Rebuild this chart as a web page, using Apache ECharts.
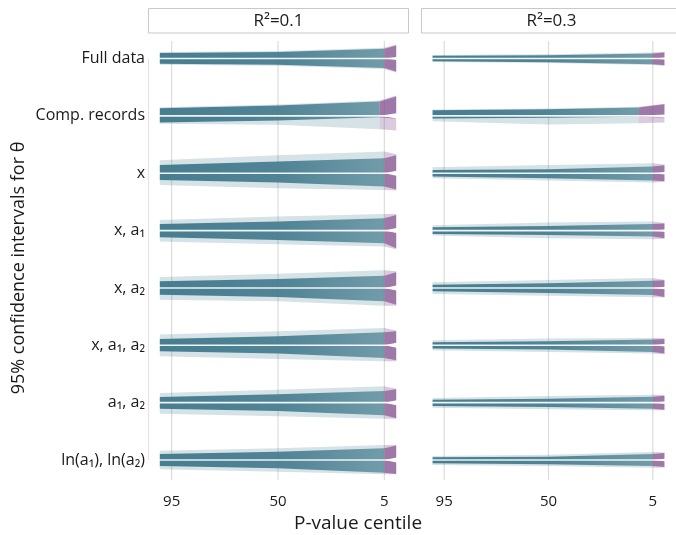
<!DOCTYPE html>
<html><head><meta charset="utf-8">
<script src="https://cdn.jsdelivr.net/npm/echarts@6/dist/echarts.min.js"></script>
<style>html,body{margin:0;padding:0;background:#fff}#c{width:676px;height:535px}</style>
</head><body><div id="c"></div>
<script>
// ---------- data ----------
const rowLabels = ['Full data', 'Comp. records', 'x', 'x, a₁', 'x, a₂', 'x, a₁, a₂', 'a₁, a₂', 'ln(a₁), ln(a₂)'];
const panelTitles = ['R²=0.1', 'R²=0.3'];
const xTickValues = [95, 50, 5];
// centile knots: 100, 50, purple start, 0
const purpleStartL = [5, 7, 5, 5, 5, 5, 5, 5];
const purpleStartR = [5, 11, 5, 5, 5, 5, 5, 5];
// distance of interval bounds from theta (arbitrary units), at knots [100, 50, purpleStart, 0]
const upperCoreL = [[5.4,6.4,9.7,13],[7.7,10.3,14.3,19.3],[8.3,11.6,15,18],[6.7,9,12.4,15.7],[6.6,9,12.3,15.6],[6.4,9,13,14],[5.6,8.3,11.6,13.5],[6,8.3,11.7,14.5]];
const upperFringeL = [[6.4,7.4,10.7,14],[8.7,11.3,15.3,20.3],[13,18,21.6,19],[10.7,14,16.7,16.7],[11,14.3,17.6,16.6],[10.7,14,17.4,14.7],[9.6,13,16.3,14],[9.3,11.7,15,15]];
const lowerCoreL = [[5.3,6.3,9.6,13],[6.7,4.7,1.5,0],[6.7,9.3,13.3,16.4],[6.6,9.3,12.6,17.6],[6.7,9,13.4,16.7],[6,8.3,12.6,15],[6,8.4,12.7,15.5],[6,8.3,12.7,14]];
const lowerFringeL = [[6.3,7.3,10.6,14],[8,9,13.3,14.7],[11.7,15,16.7,17.4],[11,13.6,16,18.6],[11.7,13.4,17.7,17.7],[11,13.6,16,16],[11,13.7,16,16],[9.3,11.7,14.3,14.3]];
const gapL = [1.5, 2.7, 2.5, 2.5, 2.5, 2.5, 2.5, 2.5];
const upperCoreR = [[2.7,3.3,5,6],[5.6,6.6,8.3,11.6],[3.3,4,6.6,8],[3.3,4.7,6.7,7],[3.3,4.6,7.3,7.6],[3,4,5.7,6.4],[3,4,6,7],[2.7,3.3,6,7]];
const upperFringeR = [[3.5,4.2,6,6.7],[6.3,7.3,9,12.2],[6,8.3,10,8.6],[5.3,8,9,7.6],[5.6,8,10,8.3],[5,6.7,7.3,7],[4.6,6.6,8,7.6],[4,5.3,8,7.6]];
const lowerCoreR = [[2.7,3.7,5.7,6.7],[2.7,2,1,0],[3.4,5,7.4,8],[3.3,4.3,6,7.6],[3.4,5,7,9],[3.3,4.3,6.7,8.3],[3.4,4.4,6,7],[3.3,4.3,6,7]];
const lowerFringeR = [[3.5,4.5,6.5,7.2],[5.3,8.7,7.5,6.7],[5,7.4,9.4,8.6],[5,7.6,8.6,8.2],[6,7.7,9.4,9.6],[5,6.7,8.3,8.9],[5,6.7,7.7,7.6],[5,6,7.7,7.6]];
const gapR = [1, 1.3, 1.2, 1.2, 1.2, 1.2, 1.2, 1.2];

// ---------- layout / style ----------
const ROW_GAP = 57.36;          // units between row centres
const ROW0_PX = 58.5;           // pixel centre of first row
const GRID_TOP = 41;
const Y_MIN = GRID_TOP - ROW0_PX, Y_MAX = 7 * ROW_GAP + 20;
const FONT = '"Open Sans", "Noto Sans", sans-serif';
const TEXT = '#1a1a1a';
const TEAL = '66,122,141';
const PURP = '132,86,146';

const panels = [
  { ps: purpleStartL, uc: upperCoreL, uf: upperFringeL, lc: lowerCoreL, lf: lowerFringeL, gap: gapL },
  { ps: purpleStartR, uc: upperCoreR, uf: upperFringeR, lc: lowerCoreR, lf: lowerFringeR, gap: gapR }
];

function buildBands(p) {
  const P = panels[p];
  const out = [];
  ['fringe', 'core'].forEach(layer => {
    ['teal', 'purple'].forEach(part => {
      rowLabels.forEach((_, r) => {
        [1, -1].forEach(sign => {
          const vals = sign > 0 ? (layer === 'core' ? P.uc[r] : P.uf[r]) : (layer === 'core' ? P.lc[r] : P.lf[r]);
          out.push({ row: r, sign, layer, part, vals, ps: P.ps[r], gap: P.gap[r] });
        });
      });
    });
  });
  return out;
}

function fillFor(b) {
  if (b.part === 'teal') {
    if (b.layer === 'fringe') return 'rgba(' + TEAL + ',0.22)';
    return new echarts.graphic.LinearGradient(0, 0, 1, 0, [
      { offset: 0, color: 'rgba(' + TEAL + ',0.97)' },
      { offset: 0.55, color: 'rgba(' + TEAL + ',0.9)' },
      { offset: 1, color: 'rgba(' + TEAL + ',0.68)' }
    ]);
  }
  return b.layer === 'fringe' ? 'rgba(' + PURP + ',0.3)' : 'rgba(' + PURP + ',0.7)';
}

function makeBandSeries(p) {
  const bands = buildBands(p);
  return {
    type: 'custom', xAxisIndex: p, yAxisIndex: p, z: 3, silent: true,
    data: bands.map(b => [50, b.row * ROW_GAP]),
    renderItem: function (params, api) {
      const b = bands[params.dataIndex];
      const c = b.row * ROW_GAP;
      let cs, outer, inner;
      if (b.part === 'teal') { cs = [100, 50, b.ps]; outer = b.vals.slice(0, 3); inner = [0, 0, 0]; }
      else { cs = [b.ps, 0]; outer = b.vals.slice(2, 4); inner = [0, b.gap]; }
      const pts = [];
      for (let i = 0; i < cs.length; i++) pts.push(api.coord([cs[i], c - b.sign * Math.max(outer[i], inner[i] + 0.3)]));
      for (let i = cs.length - 1; i >= 0; i--) pts.push(api.coord([cs[i], c - b.sign * inner[i]]));
      return { type: 'polygon', shape: { points: pts }, style: { fill: fillFor(b) } };
    }
  };
}

function makeThetaSeries(p) {
  return {
    type: 'custom', xAxisIndex: p, yAxisIndex: p, z: 5, silent: true,
    data: rowLabels.map((_, r) => [50, r * ROW_GAP]),
    renderItem: function (params, api) {
      const c = params.dataIndex * ROW_GAP;
      const a = api.coord([100.5, c]), b = api.coord([-0.5, c]);
      return { type: 'line', shape: { x1: a[0], y1: a[1], x2: b[0], y2: b[1] }, style: { stroke: 'rgba(255,255,255,0.9)', lineWidth: 1.6 } };
    }
  };
}

function makeGridLineSeries(p) {
  return {
    type: 'custom', xAxisIndex: p, yAxisIndex: p, z: 1, silent: true,
    data: xTickValues.map(v => [v, 0]),
    renderItem: function (params, api) {
      const v = xTickValues[params.dataIndex];
      const a = api.coord([v, Y_MIN]), b = api.coord([v, Y_MAX]);
      return { type: 'line', shape: { x1: a[0], y1: a[1], x2: b[0], y2: b[1] }, style: { stroke: '#dcdcdc', lineWidth: 1.2 } };
    }
  };
}

// faint left axis line of the first panel (from first to last row)
const axisLineSeries = {
  type: 'custom', xAxisIndex: 0, yAxisIndex: 0, z: 1, silent: true,
  data: [[105, 0]],
  renderItem: function (params, api) {
    const a = api.coord([105, 0]), b = api.coord([105, 7 * ROW_GAP]);
    return { type: 'line', shape: { x1: a[0] + 0.5, y1: a[1], x2: b[0] + 0.5, y2: b[1] }, style: { stroke: '#e2e2e2', lineWidth: 1 } };
  }
};

const gridH = Y_MAX - Y_MIN;
const xAxisCommon = {
  type: 'value', min: -5, max: 105, inverse: true,
  axisLine: { show: false }, axisTick: { show: false }, splitLine: { show: false },
  axisLabel: { customValues: xTickValues, fontSize: 15, color: TEXT, fontFamily: FONT, margin: 14 }
};
const yAxisCommon = { type: 'value', min: Y_MIN, max: Y_MAX, inverse: true, show: false };

const chart = echarts.init(document.getElementById('c'), null, { renderer: 'canvas' });
chart.setOption({
  animation: false,
  backgroundColor: '#fff',
  grid: [
    { left: 148, top: GRID_TOP, width: 260, height: gridH },
    { left: 421, top: GRID_TOP, width: 260, height: gridH },
    { left: 148, top: ROW0_PX - ROW_GAP / 2, width: 1, height: ROW_GAP * 8 }
  ],
  xAxis: [
    Object.assign({ gridIndex: 0 }, xAxisCommon),
    Object.assign({ gridIndex: 1 }, xAxisCommon),
    { gridIndex: 2, type: 'value', show: false }
  ],
  yAxis: [
    Object.assign({ gridIndex: 0 }, yAxisCommon),
    Object.assign({ gridIndex: 1 }, yAxisCommon),
    {
      gridIndex: 2, type: 'category', data: rowLabels, inverse: true,
      axisLine: { show: false }, axisTick: { show: false }, splitLine: { show: false },
      axisLabel: { fontSize: 16, color: TEXT, fontFamily: FONT, margin: 3 }
    }
  ],
  graphic: [
    { type: 'rect', shape: { x: 148.5, y: 8.5, width: 260, height: 24.5 }, style: { fill: '#fff', stroke: '#c8c8c8', lineWidth: 1 } },
    { type: 'rect', shape: { x: 421.5, y: 8.5, width: 260, height: 24.5 }, style: { fill: '#fff', stroke: '#c8c8c8', lineWidth: 1 } },
    { type: 'text', x: 278.5, y: 20.8, style: { text: panelTitles[0], fill: TEXT, font: '17px ' + FONT, textAlign: 'center', textVerticalAlign: 'middle' } },
    { type: 'text', x: 551.5, y: 20.8, style: { text: panelTitles[1], fill: TEXT, font: '17px ' + FONT, textAlign: 'center', textVerticalAlign: 'middle' } },
    { type: 'text', x: 358, y: 524, style: { text: 'P-value centile', fill: TEXT, font: '19px ' + FONT, textAlign: 'center', textVerticalAlign: 'middle' } },
    { type: 'text', x: 19, y: 268, rotation: Math.PI / 2, style: { text: '95% confidence intervals for θ', fill: TEXT, font: '18px ' + FONT, textAlign: 'center', textVerticalAlign: 'middle' } }
  ],
  series: [
    makeGridLineSeries(0), makeGridLineSeries(1), axisLineSeries,
    makeBandSeries(0), makeBandSeries(1),
    makeThetaSeries(0), makeThetaSeries(1)
  ]
});
</script></body></html>
